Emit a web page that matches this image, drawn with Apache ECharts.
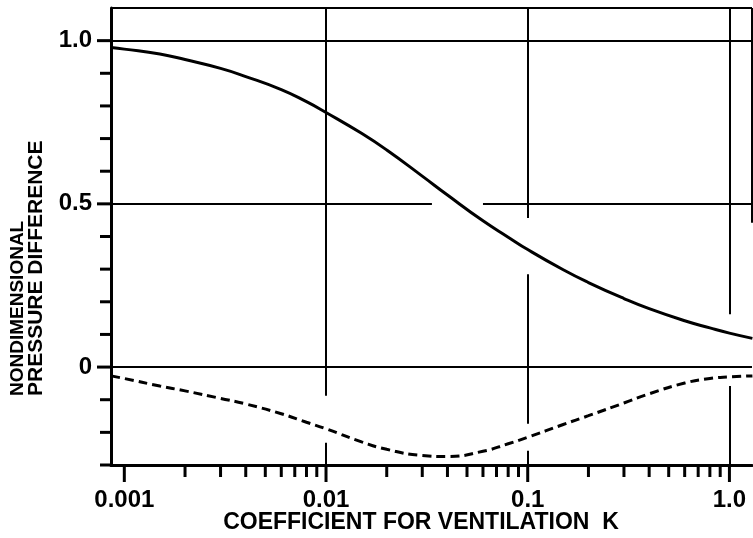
<!DOCTYPE html>
<html><head><meta charset="utf-8">
<script src="https://cdn.jsdelivr.net/npm/echarts@6/dist/echarts.min.js"></script>
<style>html,body{margin:0;padding:0;background:#fff}#c{width:753px;height:538px}</style>
</head><body><div id="c"></div>
<script>
// Ventilation coefficient K (x, log scale)
const K = [0.00086, 0.001, 0.0015, 0.002, 0.003, 0.004, 0.006, 0.008, 0.01, 0.015, 0.02, 0.03, 0.04, 0.06, 0.08, 0.1, 0.15, 0.2, 0.3, 0.4, 0.6, 0.8, 1.0, 1.3];
// Solid curve (upper)
const upper = [0.979, 0.974, 0.959, 0.942, 0.915, 0.89, 0.85, 0.813, 0.78, 0.716, 0.665, 0.585, 0.527, 0.448, 0.398, 0.36, 0.298, 0.259, 0.21, 0.179, 0.142, 0.12, 0.104, 0.088];
// Dashed curve (lower)
const lower = [-0.027, -0.035, -0.058, -0.073, -0.096, -0.113, -0.143, -0.169, -0.189, -0.229, -0.252, -0.271, -0.274, -0.258, -0.235, -0.215, -0.176, -0.149, -0.11, -0.082, -0.049, -0.035, -0.03, -0.027];
// Tick values and labels
const xMajorTicks = [0.001, 0.01, 0.1, 1];
const xTickLabels = ['0.001', '0.01', '0.1', '1.0'];
const xMinorTicks = [0.002, 0.003, 0.004, 0.005, 0.006, 0.007, 0.008, 0.009,
                     0.02, 0.03, 0.04, 0.05, 0.06, 0.07, 0.08, 0.09,
                     0.2, 0.3, 0.4, 0.5, 0.6, 0.7, 0.8, 0.9];
const yMajorTicks = [0, 0.5, 1.0];
const yTickLabels = ['0', '0.5', '1.0'];
const yMinorTicks = [-0.3, -0.2, -0.1, 0.1, 0.2, 0.3, 0.4, 0.6, 0.7, 0.8, 0.9];
const X_MIN = 0.000859, X_MAX = 1.294, Y_MIN = -0.3, Y_MAX = 1.1;
// grid line segments (drawn with gaps as in the original drawing), in data units
const gridSegments = [
  [[X_MIN, 1.0], [X_MAX, 1.0]],
  [[X_MIN, 0.5], [0.0335, 0.5]], [[0.06, 0.5], [X_MAX, 0.5]],
  [[X_MIN, 0], [X_MAX, 0]],
  [[X_MIN, Y_MAX], [X_MAX, Y_MAX]],
  [[X_MAX, Y_MAX], [X_MAX, 0.442]],
  [[0.01, Y_MAX], [0.01, -0.088]], [[0.01, -0.232], [0.01, Y_MIN]],
  [[0.1, Y_MAX], [0.1, 0.457]], [[0.1, 0.284], [0.1, -0.174]], [[0.1, -0.256], [0.1, Y_MIN]],
  [[1, Y_MAX], [1, 0.162]], [[1, -0.058], [1, Y_MIN]]
];

const FONT = '"Liberation Sans", Arial, sans-serif';
const chart = echarts.init(document.getElementById('c'), null, {renderer: 'canvas'});

const tickData = []
  .concat(xMinorTicks.map(v => [v, 0, -1, 0]))
  .concat(xMajorTicks.map((v, i) => [v, 0, i, 1]))
  .concat(yMinorTicks.map(v => [X_MIN, v, -1, 2]))
  .concat(yMajorTicks.map((v, i) => [X_MIN, v, i, 3]));

chart.setOption({
  animation: false,
  backgroundColor: '#fff',
  grid: {left: 111, top: 8, right: 1, bottom: 73, containLabel: false},
  xAxis: {
    type: 'log', logBase: 10, min: X_MIN, max: X_MAX,
    axisLine: {show: true, onZero: false, lineStyle: {color: '#000', width: 3}},
    axisTick: {show: false}, axisLabel: {show: false}, splitLine: {show: false}, minorTick: {show: false}
  },
  yAxis: {
    type: 'value', min: Y_MIN, max: Y_MAX, interval: 0.1,
    axisLine: {show: true, onZero: false, lineStyle: {color: '#000', width: 3}},
    axisTick: {show: false}, axisLabel: {show: false}, splitLine: {show: false}
  },
  graphic: [
    {type: 'text', x: 421, y: 523, style: {text: 'COEFFICIENT FOR VENTILATION  K', font: 'bold 23px ' + FONT, fill: '#000', align: 'center', verticalAlign: 'middle', textAlign: 'center', textVerticalAlign: 'middle'}},
    {type: 'text', x: 18, y: 396, rotation: Math.PI / 2, style: {text: 'NONDIMENSIONAL', font: 'bold 19px ' + FONT, fill: '#000', align: 'left', verticalAlign: 'middle', textAlign: 'left', textVerticalAlign: 'middle'}},
    {type: 'text', x: 36, y: 396, rotation: Math.PI / 2, style: {text: 'PRESSURE DIFFERENCE', font: 'bold 21px ' + FONT, fill: '#000', align: 'left', verticalAlign: 'middle', textAlign: 'left', textVerticalAlign: 'middle'}}
  ],
  series: [
    {
      type: 'line', data: K.map((k, i) => [k, upper[i]]), smooth: 0.5, symbol: 'none',
      lineStyle: {color: '#000', width: 3}, z: 3,
      markLine: {
        silent: true, symbol: ['none', 'none'], animation: false,
        label: {show: false},
        lineStyle: {color: '#000', width: 2, type: 'solid'},
        emphasis: {disabled: true},
        data: gridSegments.map(s => [{coord: s[0]}, {coord: s[1]}])
      }
    },
    {
      type: 'line', data: K.map((k, i) => [k, lower[i]]), smooth: 0.5, symbol: 'none',
      lineStyle: {color: '#000', width: 3, type: [9, 5]}, z: 3
    },
    {
      type: 'custom', coordinateSystem: 'cartesian2d', clip: false, silent: true, z: 4,
      data: tickData,
      renderItem: function (params, api) {
        const kind = api.value(3), idx = api.value(2);
        if (kind <= 1) {
          const p = api.coord([api.value(0), Y_MIN]);
          const len = kind === 1 ? 17 : 12;
          const ch = [{type: 'line', shape: {x1: p[0], y1: p[1], x2: p[0], y2: p[1] + len}, style: {stroke: '#000', lineWidth: 3}}];
          if (kind === 1) ch.push({type: 'text', x: p[0], y: p[1] + 23, style: {text: xTickLabels[idx], font: 'bold 24px ' + FONT, fill: '#000', align: 'center', verticalAlign: 'top'}});
          return {type: 'group', children: ch};
        } else {
          const p = api.coord([X_MIN, api.value(1)]);
          const len = kind === 3 ? 14 : 11;
          const ch = [{type: 'line', shape: {x1: p[0] - len, y1: p[1], x2: p[0], y2: p[1]}, style: {stroke: '#000', lineWidth: 3}}];
          if (kind === 3) ch.push({type: 'text', x: p[0] - 19, y: p[1], style: {text: yTickLabels[idx], font: 'bold 24px ' + FONT, fill: '#000', align: 'right', verticalAlign: 'middle'}});
          return {type: 'group', children: ch};
        }
      }
    }
  ]
});
</script>
</body></html>
